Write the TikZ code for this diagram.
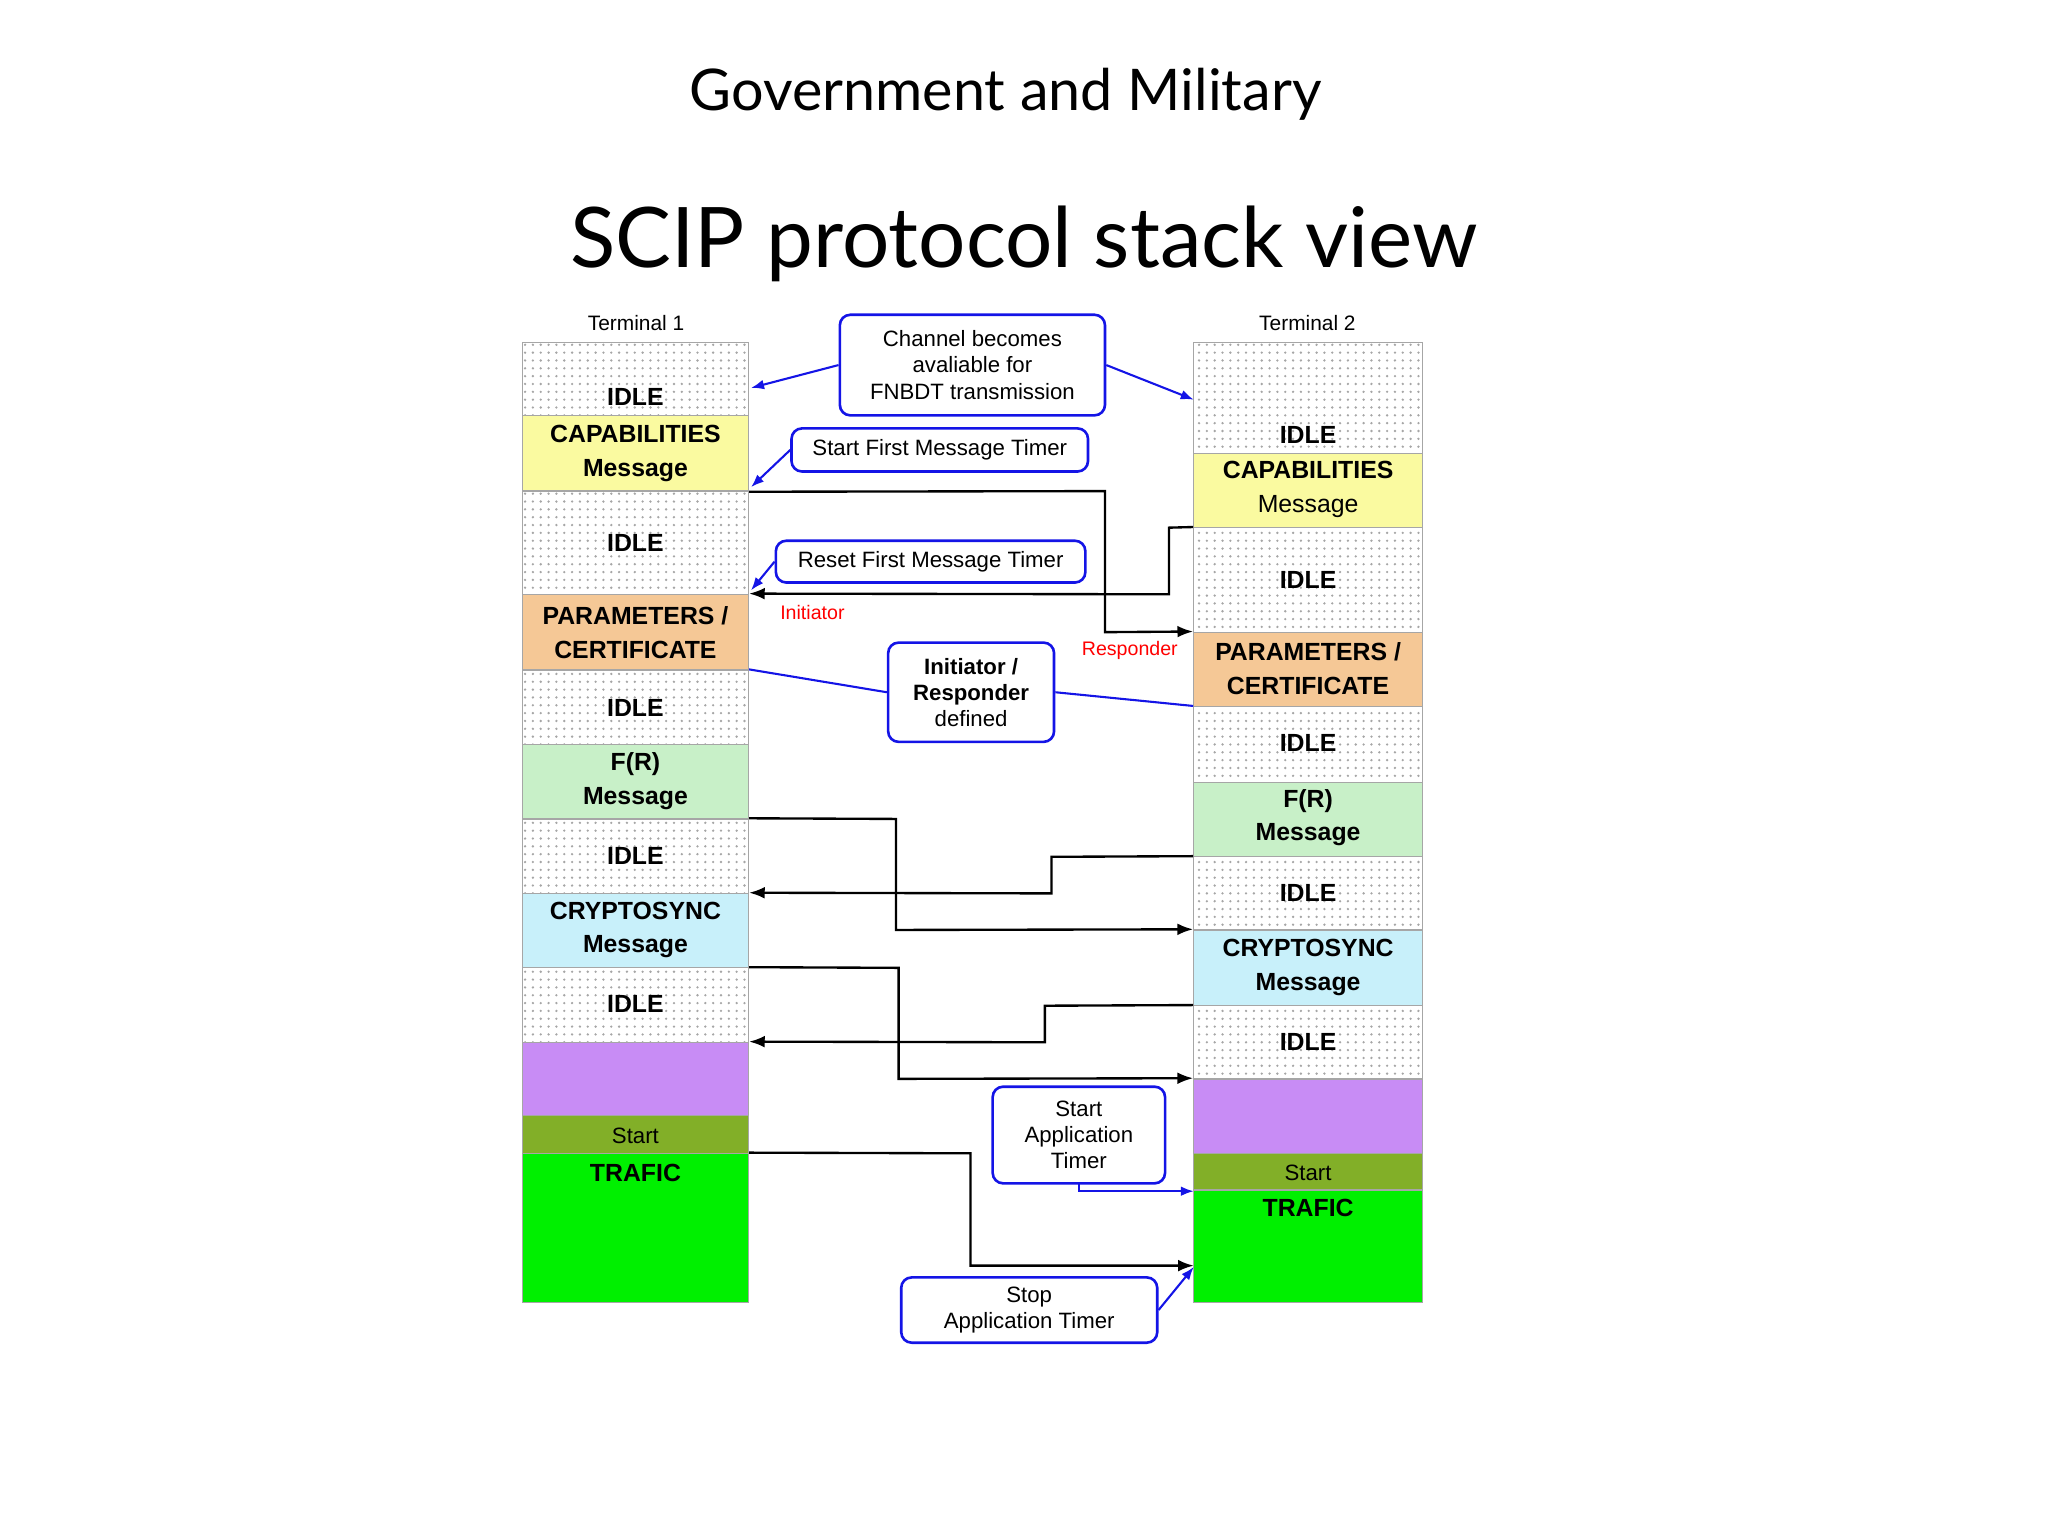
\documentclass[tikz,border=0pt]{standalone}
\usepackage{fontspec}
\setmainfont{Liberation Sans}
\newfontfamily\titlefont{Lato}
\usetikzlibrary{patterns,arrows.meta,calc}
\definecolor{capy}{RGB}{250,250,160}
\definecolor{parO}{RGB}{245,200,150}
\definecolor{frG}{RGB}{200,240,200}
\definecolor{crC}{RGB}{200,240,250}
\definecolor{purp}{RGB}{200,140,245}
\definecolor{startG}{RGB}{130,175,40}
\definecolor{trafG}{RGB}{0,240,0}
\definecolor{callB}{RGB}{20,20,230}
\begin{document}
\begin{tikzpicture}[x=0.5pt,y=-0.5pt,
  blk/.style={draw=gray!70,line width=0.5pt,inner sep=0pt},
  idle/.style={blk,pattern=dots,pattern color=gray!70},
  btxt/.style={inner sep=0pt,align=center,font=\bfseries\fontsize{9.5}{13}\selectfont},
  call/.style={draw=callB,line width=1pt,rounded corners=4pt,fill=white,align=center,inner sep=1pt,font=\fontsize{8.5}{10}\selectfont},
  link/.style={callB,line width=0.8pt,-{Latex[length=5pt]}},
  sig/.style={black,line width=0.9pt,-{Latex[length=6pt]}},
  lab/.style={font=\fontsize{8}{10}\selectfont}]
\useasboundingbox (0,0) rectangle (1568,1176);
\newcommand{\blkk}[8]{\node[#6,minimum width={(#4-#2)*0.5pt},minimum height={(#5-#3)*0.5pt}] (#1) at ({(#2+#4)/2},{(#3+#5)/2}) {};
  \node[btxt] (#1t) at ({(#2+#4)/2},#8) {#7};}
\newcommand{\callbox}[7]{\node[#6,minimum width={(#4-#2)*0.5pt},minimum height={(#5-#3)*0.5pt}] (#1) at ({(#2+#4)/2},{(#3+#5)/2}) {#7};}
\node[font=\titlefont\fontsize{22}{28}\selectfont] (t1) at (770,72) {Government and Military};
\node[font=\titlefont\fontsize{32}{40}\selectfont] (t2) at (784,187) {SCIP protocol stack view};
\node[lab] (term1) at (487,247) {Terminal 1};
\node[lab] (term2) at (1001,247) {Terminal 2};
% left stack
\blkk{l1}{400}{262}{573}{318}{idle}{IDLE}{304}
\blkk{l2}{400}{318}{573}{376}{blk,fill=capy}{CAPABILITIES\\Message}{347}
\blkk{l3}{400}{376}{573}{455}{idle}{IDLE}{416}
\blkk{l4}{400}{455}{573}{513}{blk,fill=parO}{PARAMETERS /\\CERTIFICATE}{484}
\blkk{l5}{400}{513}{573}{570}{idle}{IDLE}{542}
\blkk{l6}{400}{570}{573}{627}{blk,fill=frG}{F(R)\\Message}{598}
\blkk{l7}{400}{627}{573}{684}{idle}{IDLE}{655}
\blkk{l8}{400}{684}{573}{741}{blk,fill=crC}{CRYPTOSYNC\\Message}{712}
\blkk{l9}{400}{741}{573}{798}{idle}{IDLE}{769}
\blkk{l10}{400}{798}{573}{854}{blk,fill=purp}{}{826}
\blkk{l11}{400}{854}{573}{883}{blk,fill=startG}{\mdseries\fontsize{8.5}{10}\selectfont Start}{870}
\blkk{l12}{400}{883}{573}{997}{blk,fill=trafG}{TRAFIC}{898}
% right stack
\blkk{r1}{914}{262}{1089}{347}{idle}{IDLE}{333}
\blkk{r2}{914}{347}{1089}{404}{blk,fill=capy}{CAPABILITIES\\\mdseries Message}{375}
\blkk{r3}{914}{404}{1089}{484}{idle}{IDLE}{444}
\blkk{r4}{914}{484}{1089}{541}{blk,fill=parO}{PARAMETERS /\\CERTIFICATE}{512}
\blkk{r5}{914}{541}{1089}{599}{idle}{IDLE}{569}
\blkk{r6}{914}{599}{1089}{656}{blk,fill=frG}{F(R)\\Message}{626}
\blkk{r7}{914}{656}{1089}{712}{idle}{IDLE}{684}
\blkk{r8}{914}{712}{1089}{770}{blk,fill=crC}{CRYPTOSYNC\\Message}{741}
\blkk{r9}{914}{770}{1089}{826}{idle}{IDLE}{798}
\blkk{r10}{914}{826}{1089}{883}{blk,fill=purp}{}{854}
\blkk{r11}{914}{883}{1089}{911}{blk,fill=startG}{\mdseries\fontsize{8.5}{10}\selectfont Start}{898}
\blkk{r12}{914}{911}{1089}{997}{blk,fill=trafG}{TRAFIC}{925}
% signals
\draw[sig] (l2.south east) -- (846,376) -- (846,484) -- (r4.north west);
\draw[sig] (r3.north west) -- (895,404) -- (895,455) -- (l4.north east);
\draw[sig] (l7.north east) -- (686,627) -- (686,712) -- (r8.north west);
\draw[sig] (r7.north west) -- (805,656) -- (805,684) -- (l8.north east);
\draw[sig] (l9.north east) -- (688,741) -- (688,826) -- (r10.north west);
\draw[sig] (r9.north west) -- (800,770) -- (800,798) -- (l10.north east);
\coordinate (tr) at (914,969);
\draw[sig] (l12.north east) -- (743,883) -- (743,969) -- (tr);
% callouts
\callbox{c1}{643}{241}{846}{318}{call}{Channel becomes\\avaliable for\\FNBDT transmission}
\callbox{c2}{606}{328}{833}{361}{call}{Start First Message Timer}
\callbox{c3}{594}{414}{831}{446}{call}{Reset First Message Timer}
\callbox{c4}{680}{492}{807}{568}{call,font=\bfseries\fontsize{8.5}{10}\selectfont}{Initiator /\\Responder\\\mdseries defined}
\callbox{c5}{760}{832}{892}{906}{call}{Start\\Application\\Timer}
\callbox{c6}{690}{978}{886}{1028}{call}{Stop\\Application Timer}
\coordinate (a1) at (575,297);
\coordinate (a2) at (914,306);
\coordinate (a3) at (575,373);
\coordinate (a4) at (575,452);
\coordinate (a5) at (914,912);
\coordinate (a6) at (914,970);
\draw[link] (c1.west) -- (a1);
\draw[link] (c1.east) -- (a2);
\draw[link] (c2.west) -- (a3);
\draw[link] (c3.west) -- (a4);
\draw[callB,line width=0.8pt] (c4.west) -- (l5.north east);
\draw[callB,line width=0.8pt] (c4.east) -- (r5.north west);
\draw[link] (826,906) -- (826,912) -- (a5);
\draw[link] (c6.east) -- (a6);
\node[lab,text=red,font=\fontsize{7.5}{9}\selectfont] (ini) at (622,469) {Initiator};
\node[lab,text=red,font=\fontsize{7.5}{9}\selectfont] (resp) at (865,498) {Responder};
\end{tikzpicture}
\end{document}
